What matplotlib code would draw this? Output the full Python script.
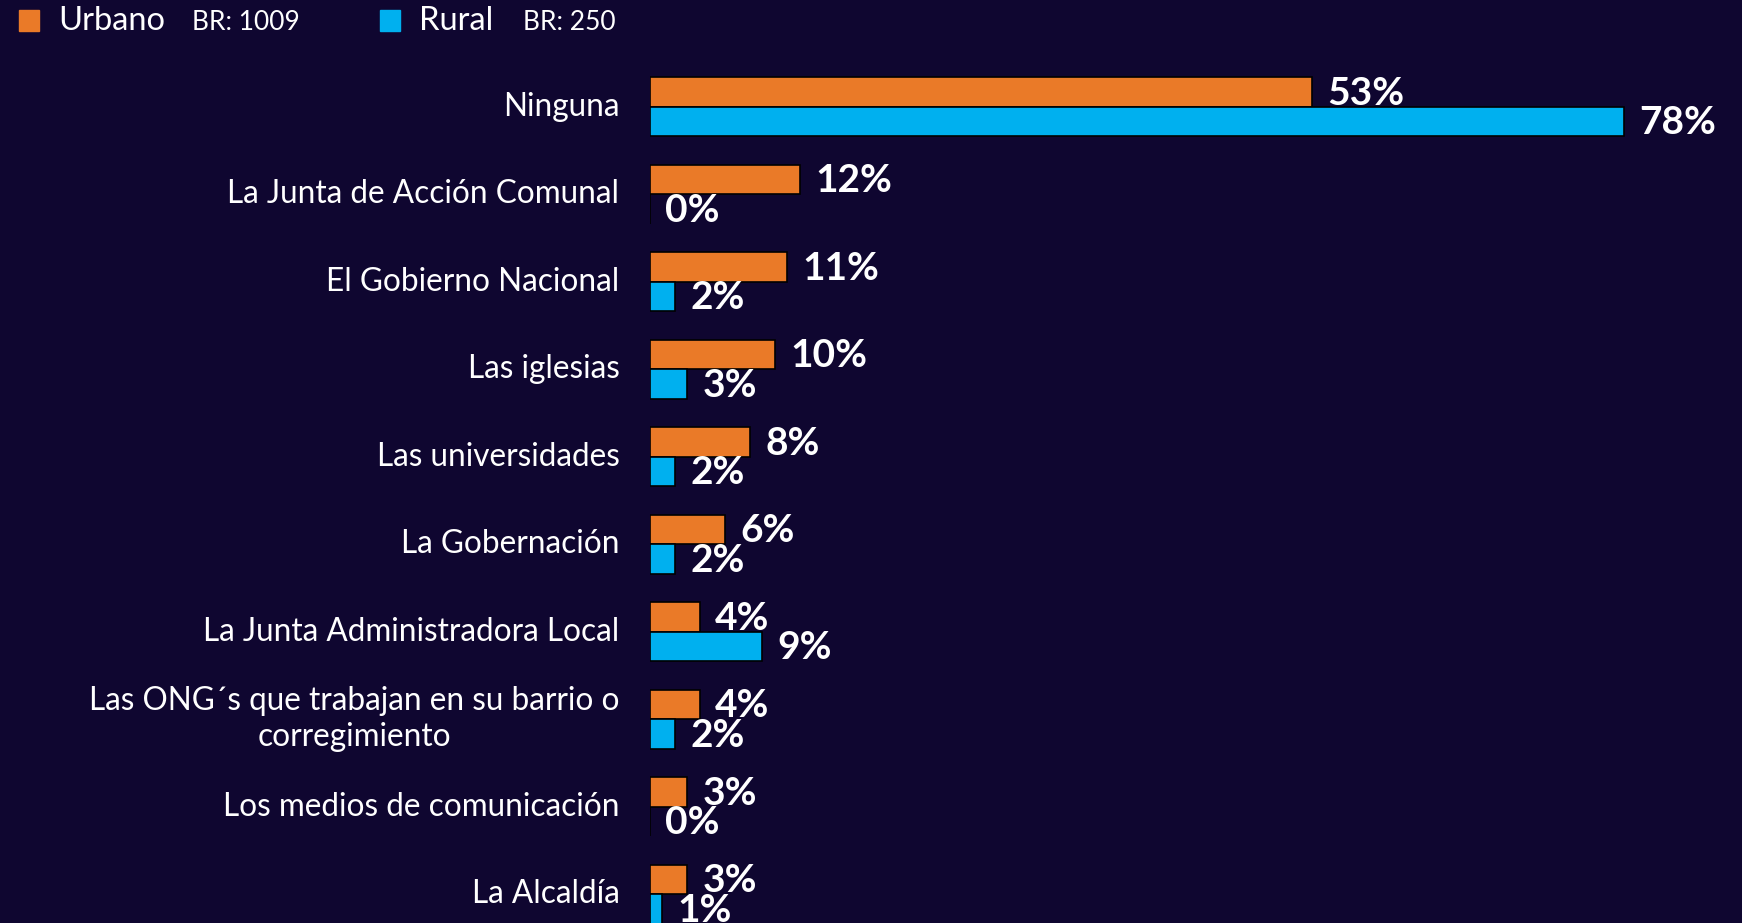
import matplotlib.pyplot as plt
import numpy as np

plt.rcParams['font.family'] = ['Lato', 'DejaVu Sans']

categorias = [
    "Ninguna",
    "La Junta de Acción Comunal",
    "El Gobierno Nacional",
    "Las iglesias",
    "Las universidades",
    "La Gobernación",
    "La Junta Administradora Local",
    "Las ONG´s que trabajan en su barrio o\ncorregimiento",
    "Los medios de comunicación",
    "La Alcaldía",
]
urbano = [53, 12, 11, 10, 8, 6, 4, 4, 3, 3]
rural = [78, 0, 2, 3, 2, 2, 9, 2, 0, 1]

BG = '#0f0630'
NARANJA = '#ea7a28'
AZUL = '#00b0ef'

W, H = 1742, 923
fig = plt.figure(figsize=(W / 100, H / 100), dpi=100, facecolor=BG)

# axes span from the bar origin to the right edge, full height
x0 = 650
ax = fig.add_axes([x0 / W, 0, 1 - x0 / W, 1])
ax.set_facecolor(BG)
px_per_pct = (1624 - x0) / 78
ax.set_xlim(0, (W - x0) / px_per_pct)
pitch = 87.5
top = 106.7
ax.set_ylim((H - top) / pitch, -top / pitch)
for s in ax.spines.values():
    s.set_visible(False)
ax.set_xticks([])
ax.set_yticks([])

y = np.arange(len(categorias))
h = 0.335
ax.barh(y - h / 2, urbano, height=h, color=NARANJA, edgecolor='black', linewidth=1.2)
ax.barh(y + h / 2, rural, height=h, color=AZUL, edgecolor='black', linewidth=1.2)

for i in range(len(categorias)):
    ax.annotate(f"{urbano[i]}%", (urbano[i], y[i] - h / 2), xytext=(11, -1),
                textcoords='offset points', ha='left', va='center',
                color='white', fontsize=28, fontweight='bold')
    ax.annotate(f"{rural[i]}%", (rural[i], y[i] + h / 2), xytext=(11, -1),
                textcoords='offset points', ha='left', va='center',
                color='white', fontsize=28, fontweight='bold')
    ax.annotate(categorias[i], (0, y[i]), xytext=(-22, 0),
                textcoords='offset points', ha='right', va='center',
                multialignment='center', color='white', fontsize=22.7,
                linespacing=1.25, annotation_clip=False)

# legend row at the top
def fx(px):
    return px / W

def fy(py):
    return 1 - py / H

for sx, color in [(19, NARANJA), (380, AZUL)]:
    fig.patches.append(plt.Rectangle((fx(sx), fy(31)), 20 / W, 21 / H,
                                     transform=fig.transFigure, color=color))
fig.text(fx(58), fy(21), "Urbano", color='white', fontsize=23.5, va='center')
fig.text(fx(192), fy(23), "BR: 1009", color='white', fontsize=19, va='center')
fig.text(fx(419), fy(21), "Rural", color='white', fontsize=23.5, va='center')
fig.text(fx(523), fy(23), "BR: 250", color='white', fontsize=19, va='center')

fig.savefig('out.png', dpi=100, facecolor=BG)
